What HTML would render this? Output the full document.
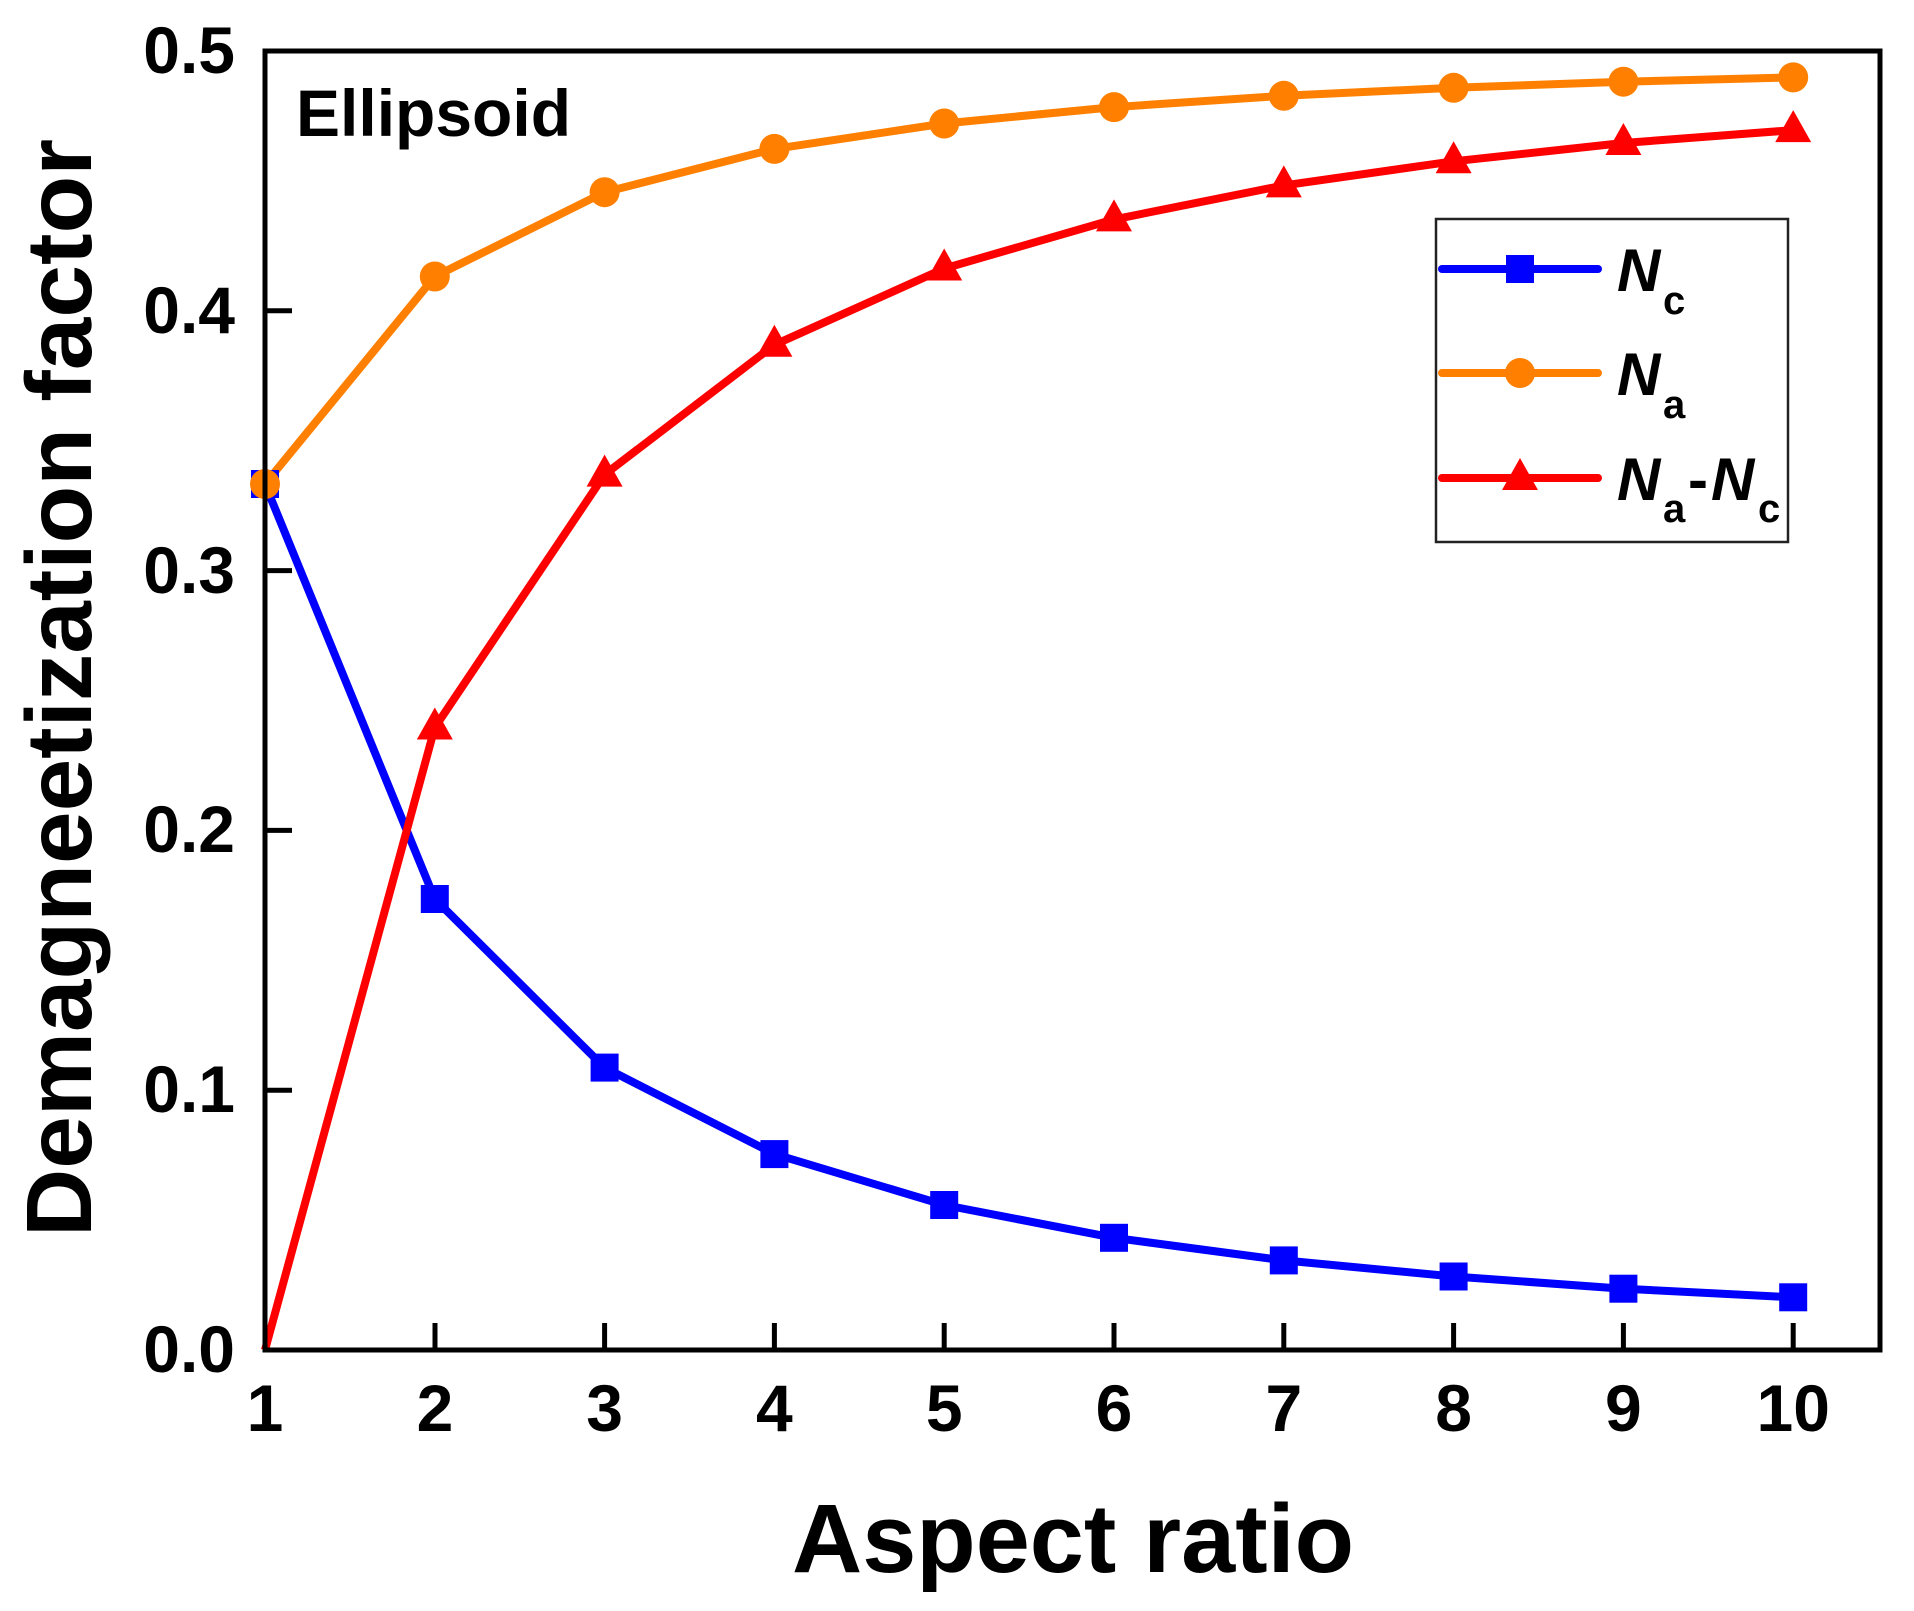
<!DOCTYPE html>
<html><head><meta charset="utf-8"><style>html,body{margin:0;padding:0;background:#fff}svg{display:block}</style></head>
<body>
<svg width="1914" height="1611" viewBox="0 0 1914 1611" xmlns="http://www.w3.org/2000/svg" font-family="Liberation Sans, Arial, sans-serif" font-weight="bold">
<rect width="1914" height="1611" fill="#fff"/>
<defs>
<rect id="sq" x="-14" y="-14" width="28" height="28" fill="#0000ff"/>
<circle id="ci" r="15" fill="#ff8000"/>
<polygon id="tr" points="0,-20 18,12 -18,12" fill="#ff0000"/>
</defs>
<polyline points="265,484 434.8,899 604.6,1067.6 774.4,1154.1 944.2,1205 1114,1237.8 1283.8,1260.4 1453.6,1276.5 1623.4,1288.7 1793.2,1297.3" fill="none" stroke="#0000ff" stroke-width="8" stroke-linejoin="round"/>
<polyline points="265,484 434.8,276.5 604.6,192.2 774.4,148.9 944.2,123.5 1114,107.1 1283.8,95.8 1453.6,87.8 1623.4,81.7 1793.2,77.4" fill="none" stroke="#ff8000" stroke-width="8" stroke-linejoin="round"/>
<polyline points="265,1350 434.8,727.5 604.6,474.6 774.4,344.8 944.2,268.5 1114,219.4 1283.8,185.4 1453.6,161.3 1623.4,143 1793.2,130.1" fill="none" stroke="#ff0000" stroke-width="8" stroke-linejoin="round"/>
<use href="#sq" x="265" y="484"/><use href="#sq" x="434.8" y="899"/><use href="#sq" x="604.6" y="1067.6"/><use href="#sq" x="774.4" y="1154.1"/><use href="#sq" x="944.2" y="1205"/><use href="#sq" x="1114" y="1237.8"/><use href="#sq" x="1283.8" y="1260.4"/><use href="#sq" x="1453.6" y="1276.5"/><use href="#sq" x="1623.4" y="1288.7"/><use href="#sq" x="1793.2" y="1297.3"/>
<use href="#ci" x="265" y="484"/><use href="#ci" x="434.8" y="276.5"/><use href="#ci" x="604.6" y="192.2"/><use href="#ci" x="774.4" y="148.9"/><use href="#ci" x="944.2" y="123.5"/><use href="#ci" x="1114" y="107.1"/><use href="#ci" x="1283.8" y="95.8"/><use href="#ci" x="1453.6" y="87.8"/><use href="#ci" x="1623.4" y="81.7"/><use href="#ci" x="1793.2" y="77.4"/>
<use href="#tr" x="434.8" y="727.5"/><use href="#tr" x="604.6" y="474.6"/><use href="#tr" x="774.4" y="344.8"/><use href="#tr" x="944.2" y="268.5"/><use href="#tr" x="1114" y="219.4"/><use href="#tr" x="1283.8" y="185.4"/><use href="#tr" x="1453.6" y="161.3"/><use href="#tr" x="1623.4" y="143"/><use href="#tr" x="1793.2" y="130.1"/>
<rect x="265" y="51" width="1615" height="1299" fill="none" stroke="#000" stroke-width="5"/>
<g stroke="#000" stroke-width="5">
<line x1="435" y1="1350" x2="435" y2="1323"/><line x1="604.6" y1="1350" x2="604.6" y2="1323"/><line x1="774.4" y1="1350" x2="774.4" y2="1323"/><line x1="944.2" y1="1350" x2="944.2" y2="1323"/><line x1="1114" y1="1350" x2="1114" y2="1323"/><line x1="1283.8" y1="1350" x2="1283.8" y2="1323"/><line x1="1453.6" y1="1350" x2="1453.6" y2="1323"/><line x1="1623.4" y1="1350" x2="1623.4" y2="1323"/><line x1="1793.2" y1="1350" x2="1793.2" y2="1323"/>
<line x1="265" y1="1090.2" x2="292" y2="1090.2"/><line x1="265" y1="830.4" x2="292" y2="830.4"/><line x1="265" y1="570.6" x2="292" y2="570.6"/><line x1="265" y1="310.8" x2="292" y2="310.8"/>
</g>
<g font-size="66" text-anchor="middle">
<text x="265" y="1431">1</text><text x="435" y="1431">2</text><text x="604.6" y="1431">3</text><text x="774.4" y="1431">4</text><text x="944.2" y="1431">5</text><text x="1114" y="1431">6</text><text x="1283.8" y="1431">7</text><text x="1453.6" y="1431">8</text><text x="1623.4" y="1431">9</text><text x="1793.2" y="1431">10</text>
</g>
<g font-size="66" text-anchor="end">
<text x="235" y="1372">0.0</text><text x="235" y="1112">0.1</text><text x="235" y="852">0.2</text><text x="235" y="593">0.3</text><text x="235" y="333">0.4</text><text x="235" y="73">0.5</text>
</g>
<text x="296" y="136" font-size="66">Ellipsoid</text>
<text x="792" y="1572" font-size="97" textLength="562" lengthAdjust="spacingAndGlyphs">Aspect ratio</text>
<text transform="translate(91,1237) rotate(-90)" font-size="93" textLength="1098" lengthAdjust="spacingAndGlyphs">Demagneetization factor</text>
<rect x="1436" y="219" width="352" height="323" fill="#fff" stroke="#222" stroke-width="2.5"/>
<line x1="1442" y1="269" x2="1598" y2="269" stroke="#0000ff" stroke-width="8" stroke-linecap="round"/>
<rect x="1506" y="255" width="28" height="28" fill="#0000ff"/>
<line x1="1442" y1="373" x2="1598" y2="373" stroke="#ff8000" stroke-width="8" stroke-linecap="round"/>
<circle cx="1520" cy="373" r="15" fill="#ff8000"/>
<line x1="1442" y1="478" x2="1598" y2="478" stroke="#ff0000" stroke-width="8" stroke-linecap="round"/>
<polygon points="1520,458 1538,490 1502,490" fill="#ff0000"/>
<g font-size="60" font-style="italic">
<text x="1617" y="291">N</text><text x="1617" y="395">N</text><text x="1617" y="500">N</text><text x="1711" y="500">N</text>
</g>
<g font-size="40">
<text x="1663" y="314">c</text><text x="1663" y="418">a</text><text x="1663" y="522">a</text><text x="1758" y="522">c</text>
</g>
<text x="1688" y="500" font-size="60">-</text>
</svg>
</body></html>
